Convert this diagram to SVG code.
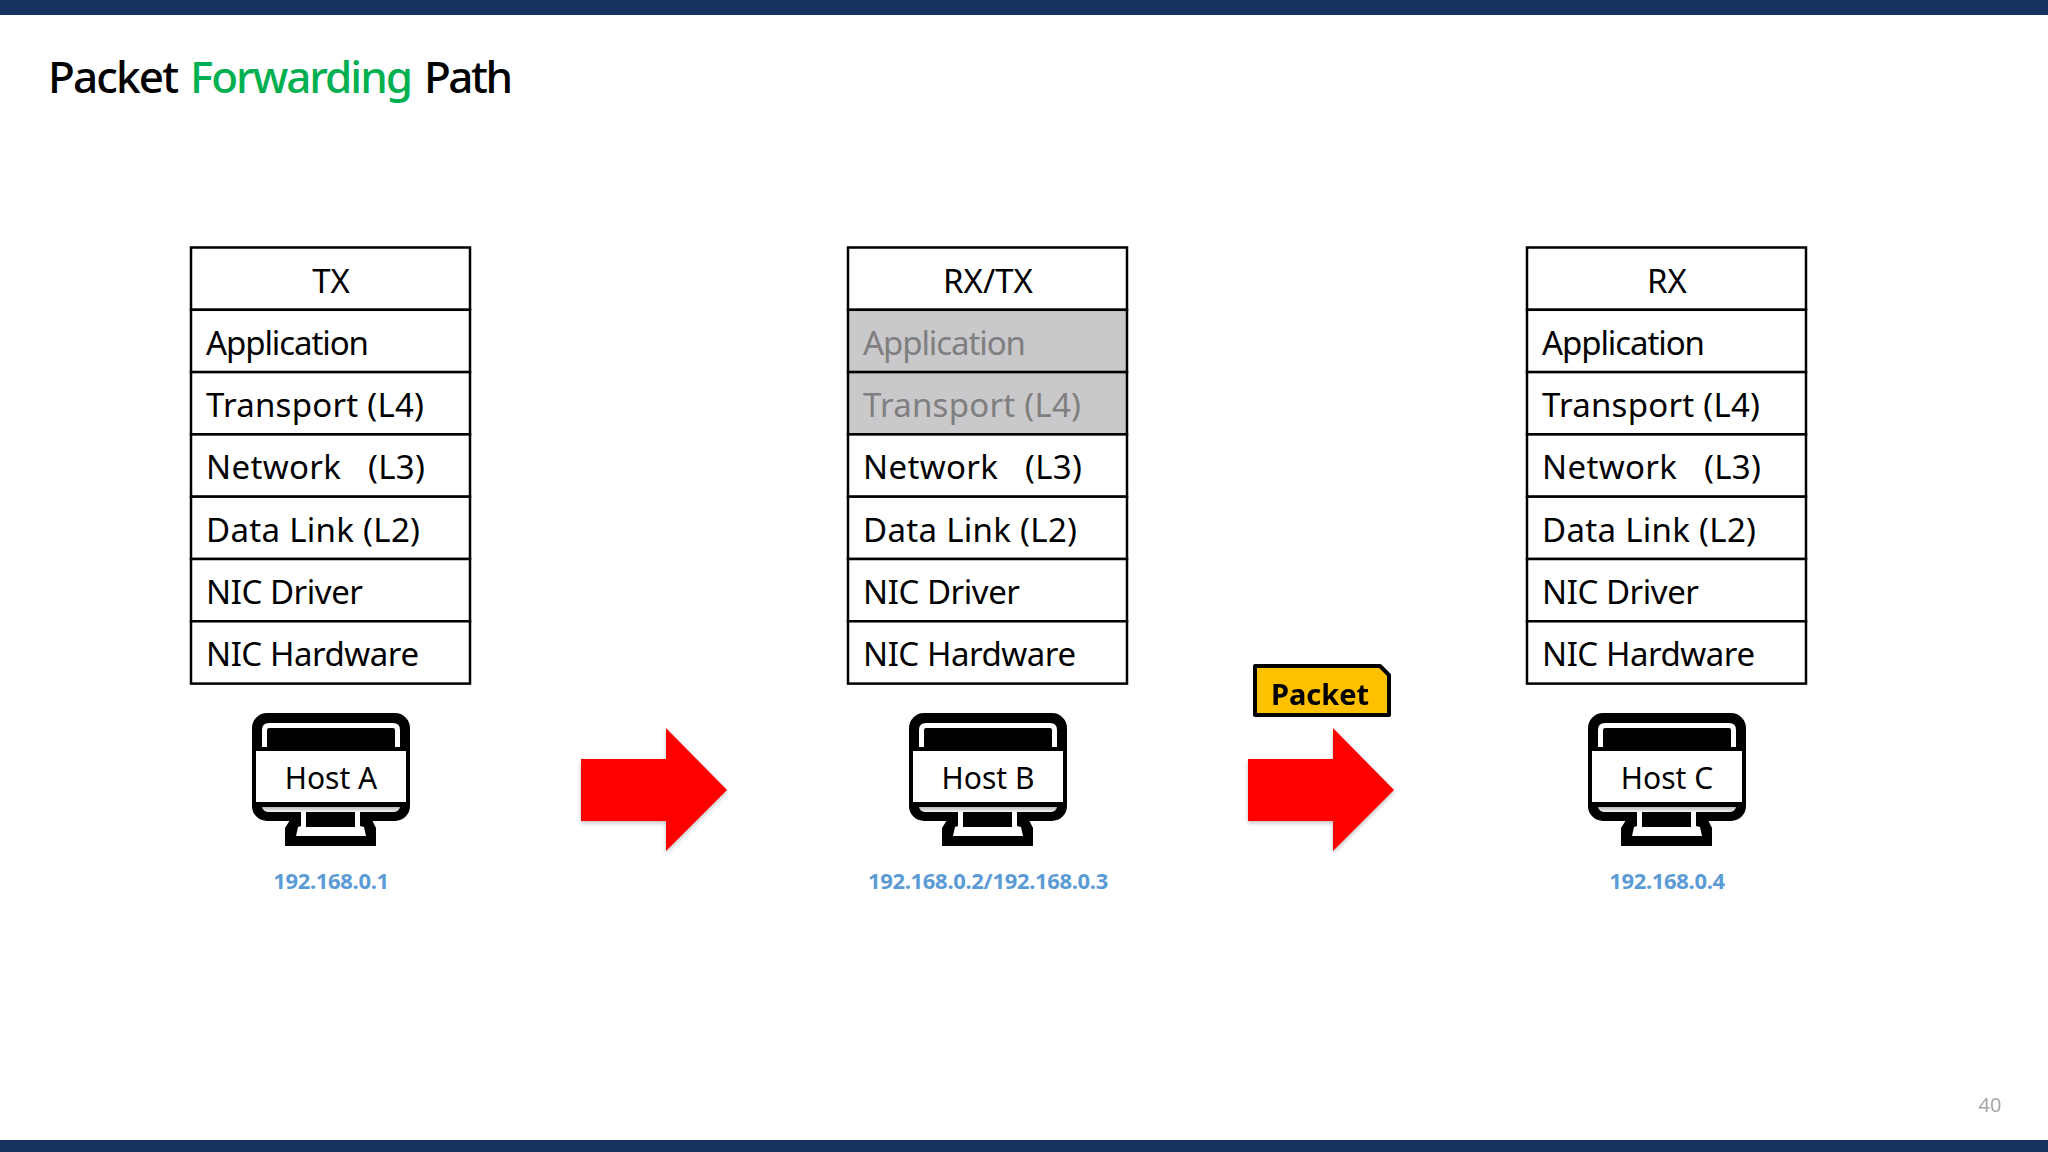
<svg xmlns="http://www.w3.org/2000/svg" width="2048" height="1152" viewBox="0 0 2048 1152">
<style>
text{font-family:"Noto Sans","Open Sans",sans-serif}
.c{fill:#fff;stroke:#000;stroke-width:2.5}
.g{fill:#c9c8cb;stroke:#000;stroke-width:2.5}
.t{font-size:33px;fill:#000}
.m{text-anchor:middle}
.d{fill:#7f7f7f}
.h{font-size:30px;fill:#000;text-anchor:middle}
.ip{font-size:22px;font-weight:700;fill:#5b9bd5;text-anchor:middle;letter-spacing:-.33px}
</style>
<defs>
<linearGradient id="strip" x1="0" y1="0" x2="0" y2="1"><stop offset="0" stop-color="#b8b8b8"/><stop offset="1" stop-color="#f4f4f4"/></linearGradient>
<filter id="shadow" x="-10%" y="-10%" width="125%" height="125%"><feDropShadow dx="0" dy="2" stdDeviation="2" flood-color="#000" flood-opacity=".25"/></filter>
<g id="monitor">
<rect x="-79" y="-133" width="158" height="108" rx="15" fill="#000"/>
<path d="M-66.500-99V-116Q-66.500-120.500-62-120.500H62Q66.500-120.500 66.500-116V-99" fill="none" stroke="#fff" stroke-width="5"/>
<rect x="-75" y="-95" width="150" height="51" fill="#fff"/>
<path d="M-69-39H69Q68-34 62-34H-62Q-68-34-69-39Z" fill="url(#strip)"/>
<path d="M-41-26L-46-18V0H45V-18L41-26Z" fill="#000"/>
<path d="M-30-34V-20L-33-19-35-10H35L33-19 29-20V-34H24V-19H-25V-34Z" fill="#fff"/>
</g>
<path id="arrow" d="M0 0H85V-31L146 31 85 92V62H0Z"/>
</defs>
<rect width="2048" height="1152" fill="#fff"/>
<rect width="2048" height="15" fill="#17325f"/>
<rect y="1140" width="2048" height="12" fill="#17325f"/>
<text y="93" font-size="44" font-weight="500" fill="#000"><tspan x="48" textLength="131">Packet</tspan><tspan x="190" textLength="223" fill="#00b050">Forwarding</tspan><tspan x="424" textLength="89">Path</tspan></text>

<g id="stack-tx">
<rect class="c" x="191" y="247.500" width="279" height="62.300"/><rect class="c" x="191" y="309.800" width="279" height="62.300"/><rect class="c" x="191" y="372.100" width="279" height="62.300"/><rect class="c" x="191" y="434.400" width="279" height="62.300"/><rect class="c" x="191" y="496.700" width="279" height="62.300"/><rect class="c" x="191" y="559" width="279" height="62.300"/><rect class="c" x="191" y="621.300" width="279" height="62.300"/>
<text class="t m" x="331" y="292.500">TX</text><text class="t" x="206" y="354.500" textLength="163">Application</text><text class="t" x="206" y="416.500" textLength="218">Transport (L4)</text><text class="t" x="206" y="479" xml:space="preserve" textLength="219">Network   (L3)</text><text class="t" x="206" y="541.500" textLength="214">Data Link (L2)</text><text class="t" x="206" y="603.500" textLength="157">NIC Driver</text><text class="t" x="206" y="665.500" textLength="213">NIC Hardware</text>
</g>
<g id="stack-rxtx">
<rect class="c" x="848" y="247.500" width="279" height="62.300"/><rect class="g" x="848" y="309.800" width="279" height="62.300"/><rect class="g" x="848" y="372.100" width="279" height="62.300"/><rect class="c" x="848" y="434.400" width="279" height="62.300"/><rect class="c" x="848" y="496.700" width="279" height="62.300"/><rect class="c" x="848" y="559" width="279" height="62.300"/><rect class="c" x="848" y="621.300" width="279" height="62.300"/>
<text class="t m" x="988" y="292.500">RX/TX</text><text class="t d" x="863" y="354.500" textLength="163">Application</text><text class="t d" x="863" y="416.500" textLength="218">Transport (L4)</text><text class="t" x="863" y="479" xml:space="preserve" textLength="219">Network   (L3)</text><text class="t" x="863" y="541.500" textLength="214">Data Link (L2)</text><text class="t" x="863" y="603.500" textLength="157">NIC Driver</text><text class="t" x="863" y="665.500" textLength="213">NIC Hardware</text>
</g>
<g id="stack-rx">
<rect class="c" x="1527" y="247.500" width="279" height="62.300"/><rect class="c" x="1527" y="309.800" width="279" height="62.300"/><rect class="c" x="1527" y="372.100" width="279" height="62.300"/><rect class="c" x="1527" y="434.400" width="279" height="62.300"/><rect class="c" x="1527" y="496.700" width="279" height="62.300"/><rect class="c" x="1527" y="559" width="279" height="62.300"/><rect class="c" x="1527" y="621.300" width="279" height="62.300"/>
<text class="t m" x="1667" y="292.500">RX</text><text class="t" x="1542" y="354.500" textLength="163">Application</text><text class="t" x="1542" y="416.500" textLength="218">Transport (L4)</text><text class="t" x="1542" y="479" xml:space="preserve" textLength="219">Network   (L3)</text><text class="t" x="1542" y="541.500" textLength="214">Data Link (L2)</text><text class="t" x="1542" y="603.500" textLength="157">NIC Driver</text><text class="t" x="1542" y="665.500" textLength="213">NIC Hardware</text>
</g>
<g id="host-a"><use href="#monitor" x="331" y="846"/><text class="h" x="331" y="789">Host A</text><text class="ip" x="331" y="889">192.168.0.1</text></g>
<g id="host-b"><use href="#monitor" x="988" y="846"/><text class="h" x="988" y="789">Host B</text><text class="ip" x="988" y="889">192.168.0.2/192.168.0.3</text></g>
<g id="host-c"><use href="#monitor" x="1667" y="846"/><text class="h" x="1667" y="789">Host C</text><text class="ip" x="1667" y="889">192.168.0.4</text></g>
<g id="connectors" fill="#ff0000" filter="url(#shadow)">
<use href="#arrow" x="581" y="759"/>
<use href="#arrow" x="1248" y="759"/>
</g>
<g id="packet">
<path d="M1255 666H1380L1389 675V715H1255Z" fill="#ffc000" stroke="#000" stroke-width="4" stroke-linejoin="round"/>
<text x="1320" y="705" font-size="29" font-weight="700" fill="#000" text-anchor="middle">Packet</text>
</g>
<text x="1990" y="1112" font-size="20" fill="#a6a6a6" text-anchor="middle">40</text>
</svg>
